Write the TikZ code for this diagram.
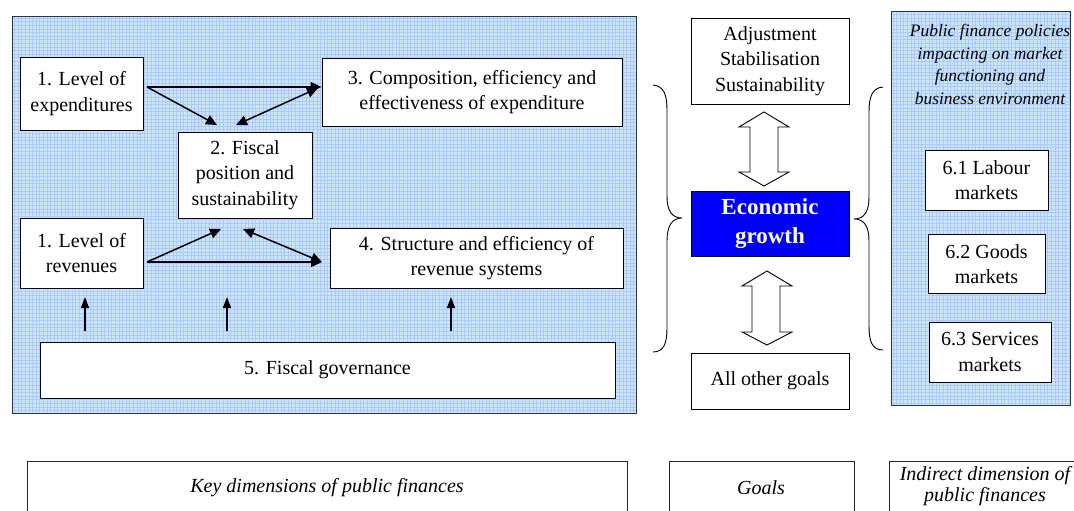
\documentclass[tikz,border=0pt]{standalone}
\usepackage{fontspec}
\IfFontExistsTF{LiberationSerif-Regular.ttf}{%
  \setmainfont{LiberationSerif}[Extension=.ttf, UprightFont=*-Regular, BoldFont=*-Bold, ItalicFont=*-Italic, BoldItalicFont=*-BoldItalic]%
}{%
  \setmainfont{Liberation Serif}%
}
\usetikzlibrary{arrows.meta,calc}
\definecolor{bgblue}{RGB}{208,228,255}
\definecolor{gridblue}{RGB}{168,204,250}
\definecolor{growthblue}{RGB}{0,0,250}
\tikzset{
  box/.style={draw=black, fill=white, line width=0.9pt, align=center, inner sep=0pt, font=\fontsize{20}{25.5}\selectfont},
  legendbox/.style={draw=black!85, line width=0.7pt},
  conn/.style={line width=1.5pt, -{Triangle[length=11pt,width=10pt]}},
  bconn/.style={line width=1.5pt, {Triangle[length=11pt,width=10pt]}-{Triangle[length=11pt,width=10pt]}},
  upconn/.style={line width=1.4pt, -{Triangle[length=11pt,width=8pt]}},
  hollow/.style={draw=black, fill=white, line width=0.9pt, line join=miter},
  brace/.style={draw=black, line width=0.9pt},
  panel/.style={draw=black!80, line width=1pt},
}
\begin{document}
\begin{tikzpicture}[x=1pt,y=-1pt]
\clip (0,0) rectangle (1074,511);
\fill[white] (0,0) rectangle (1074,511);

% left panel
\fill[bgblue] (12,17) rectangle (636,413);
\draw[gridblue, line width=0.35pt, step=3.6pt] (12,17) grid (636,413);
\draw[panel] (12,17) rectangle (636,413);

% right panel
\fill[bgblue] (891,12) rectangle (1070,405);
\draw[gridblue, line width=0.35pt, step=3.6pt] (891,12) grid (1070,405);
\draw[panel] (891,12) rectangle (1070,405);

% boxes of left panel
\node[box, minimum width=123pt, minimum height=73pt] (exp) at (81.5,93.5) {1. Level of\\expenditures};
\node[box, minimum width=300pt, minimum height=68pt] (comp) at (472,92) {3. Composition, efficiency and\\effectiveness of expenditure};
\node[box, minimum width=134pt, minimum height=86pt] (fisc) at (245,175) {2. Fiscal\\position and\\sustainability};
\node[box, minimum width=123pt, minimum height=70pt] (rev) at (81.5,253) {1. Level of\\revenues};
\node[box, minimum width=293pt, minimum height=60pt] (struct) at (476.5,258) {4. Structure and efficiency of\\revenue systems};
\node[box, minimum width=575pt, minimum height=56pt] (gov) at (327.5,370) {5. Fiscal governance};

% arrow end points
\coordinate (expA) at (147,87);
\coordinate (fiscTL) at (217,125);
\coordinate (fiscTR) at (236,125);
\coordinate (compA) at (318,88);
\coordinate (revA) at (147,262);
\coordinate (fiscBL) at (221,229);
\coordinate (fiscBR) at (243,229);
\coordinate (structA) at (322,262);

\draw[conn] (expA) -- (expA -| comp.west);
\draw[conn] (expA) -- (fiscTL);
\draw[bconn] (fiscTR) -- (compA);
\draw[conn] (revA) -- (structA);
\draw[conn] (revA) -- (fiscBL);
\draw[bconn] (fiscBR) -- (structA);

\coordinate (g1) at (85,331);
\coordinate (g2) at (227,331);
\coordinate (g3) at (451,331);
\draw[upconn] (g1) -- ++(0,-34);
\draw[upconn] (g2) -- ++(0,-34);
\draw[upconn] (g3) -- ++(0,-34);

% goals column
\node[box, minimum width=158pt, minimum height=86pt] (adj) at (770,61) {Adjustment\\Stabilisation\\Sustainability};
\node[box, fill=growthblue, text=white, minimum width=158pt, minimum height=65pt, font=\fontsize{23}{29}\selectfont\bfseries] (growth) at (770,223.5) {Economic\\growth};
\node[box, minimum width=158pt, minimum height=56pt] (other) at (770,381) {All other goals};

% hollow double arrows
\draw[hollow] (764,112) -- (789,127) -- (778,127) -- (778,172) -- (789,172) -- (764,186) -- (739,172) -- (750,172) -- (750,127) -- (739,127) -- cycle;
\draw[hollow] (767,271) -- (792,286) -- (780,286) -- (780,332) -- (792,332) -- (767,345) -- (742,332) -- (752,332) -- (752,286) -- (742,286) -- cycle;

% braces
\draw[brace] (653,85) .. controls (664,86) and (667,95) .. (667,110) -- (667,196) .. controls (667,211) and (672,218) .. (682,218) .. controls (672,218) and (667,226) .. (667,241) -- (667,328) .. controls (667,343) and (664,352) .. (653,352);
\draw[brace] (883,87) .. controls (872,88) and (869,97) .. (869,112) -- (869,197) .. controls (869,212) and (864,219) .. (854,219) .. controls (864,219) and (869,226) .. (869,241) -- (869,326) .. controls (869,341) and (872,350) .. (883,350);

% right panel content
\node[align=center, inner sep=0pt, font=\fontsize{17.5}{22.5}\selectfont\itshape] (pfp) at (990,64.5) {Public finance policies\\impacting on market\\functioning and\\business environment};
\node[box, minimum width=123pt, minimum height=60pt] (lab) at (986.5,180) {6.1 Labour\\markets};
\node[box, minimum width=117pt, minimum height=59pt] (goods) at (986.5,264) {6.2 Goods\\markets};
\node[box, minimum width=122pt, minimum height=60pt] (serv) at (990,352) {6.3 Services\\markets};

% legend
\draw[legendbox] (27,530) -- (27,461) -- (627,461) -- (627,530);
\draw[legendbox] (669,530) -- (669,461) -- (854,461) -- (854,530);
\draw[legendbox] (889,530) -- (889,461) -- (1080,461);
\node[font=\fontsize{20}{22}\selectfont\itshape, inner sep=0pt] (keyd) at (327,488) {Key dimensions of public finances};
\node[font=\fontsize{20}{22}\selectfont\itshape, inner sep=0pt] (goals) at (761,488) {Goals};
\node[font=\fontsize{20}{21.5}\selectfont\itshape, align=center, inner sep=0pt] (indir) at (985,486) {Indirect dimension of\\public finances};
\end{tikzpicture}
\end{document}
